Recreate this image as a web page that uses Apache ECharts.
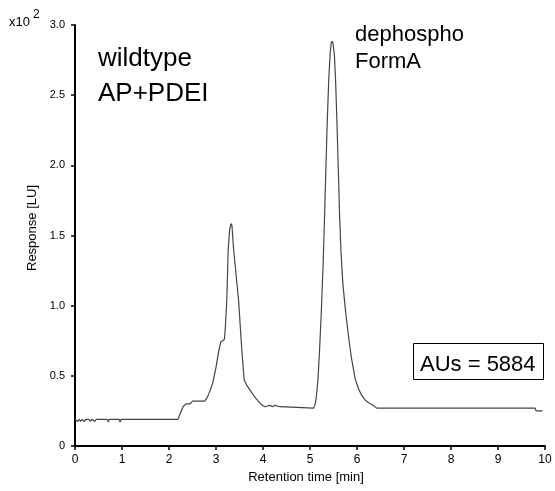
<!DOCTYPE html>
<html><head><meta charset="utf-8">
<script src="https://cdn.jsdelivr.net/npm/echarts@6/dist/echarts.min.js"></script>
<style>html,body{margin:0;padding:0;background:#fff}#c{width:555px;height:491px}</style>
</head><body><div id="c"></div>
<script>
const times = [0,0.04,0.06,0.09,0.12,0.15,0.2,0.23,0.3,0.33,0.36,0.42,0.45,0.69,0.71,0.73,0.94,0.96,0.98,2.19,2.25,2.3,2.36,2.45,2.5,2.76,2.82,2.88,2.93,3.0,3.06,3.1,3.18,3.2,3.23,3.26,3.29,3.32,3.34,3.37,3.43,3.48,3.55,3.6,3.66,3.72,3.8,3.87,3.95,4.04,4.08,4.15,4.2,4.25,4.36,4.4,5.08,5.11,5.13,5.15,5.17,5.2,5.24,5.28,5.31,5.34,5.37,5.4,5.43,5.45,5.47,5.49,5.52,5.545,5.57,5.6,5.63,5.66,5.7,5.76,5.82,5.88,5.96,6.03,6.1,6.17,6.24,6.34,6.42,9.79,9.81,9.95];
const responses = [0.19,0.19,0.175,0.19,0.175,0.19,0.175,0.19,0.19,0.175,0.19,0.175,0.19,0.19,0.17,0.19,0.19,0.17,0.19,0.19,0.24,0.28,0.3,0.3,0.32,0.32,0.35,0.4,0.45,0.56,0.68,0.74,0.76,0.85,1.04,1.40,1.54,1.585,1.57,1.42,1.21,1.04,0.68,0.47,0.43,0.40,0.36,0.33,0.30,0.28,0.29,0.29,0.28,0.29,0.28,0.27,0.27,0.30,0.34,0.40,0.48,0.66,0.95,1.30,1.64,2.0,2.34,2.62,2.80,2.87,2.885,2.87,2.78,2.6,2.34,2.0,1.64,1.38,1.15,0.95,0.78,0.63,0.48,0.41,0.36,0.33,0.31,0.29,0.27,0.27,0.25,0.25];
const xTicks = [0,1,2,3,4,5,6,7,8,9,10];
const yTicks = [0,0.5,1.0,1.5,2.0,2.5,3.0];
const xTitle = 'Retention time [min]';
const yTitle = 'Response [LU]';
const labelsLeft = ['wildtype','AP+PDEI'];
const labelsRight = ['dephospho','FormA'];
const areaText = 'AUs = 5884';

const chart = echarts.init(document.getElementById('c'));
const font = 'Liberation Sans, Arial, sans-serif';
chart.setOption({
  animation:false,
  grid:{left:75,right:10,top:25,bottom:45},
  xAxis:{type:'value',min:xTicks[0],max:xTicks[xTicks.length-1],interval:1,
    axisLine:{lineStyle:{color:'#000',width:2}},
    axisTick:{length:4,lineStyle:{color:'#000',width:1.5}},
    axisLabel:{fontFamily:font,fontSize:12,color:'#000',margin:8},
    splitLine:{show:false}},
  yAxis:{type:'value',min:yTicks[0],max:yTicks[yTicks.length-1],interval:0.5,
    axisLine:{show:true,lineStyle:{color:'#000',width:2}},
    axisTick:{show:true,length:4,lineStyle:{color:'#000',width:1.5}},
    axisLabel:{fontFamily:font,fontSize:11,color:'#000',margin:10,formatter:v=>v===0?'0':v.toFixed(1)},
    splitLine:{show:false}},
  graphic:[
    {type:'text',x:9,y:15.6,style:{text:'x10',font:'13px '+font,fill:'#000'}},
    {type:'text',x:33,y:8.4,style:{text:'2',font:'12px '+font,fill:'#000'}},
    {type:'text',x:306,y:477,style:{text:xTitle,font:'13px '+font,fill:'#000',align:'center',verticalAlign:'middle'}},
    {type:'text',x:32,y:228,rotation:Math.PI/2,style:{text:yTitle,font:'13px '+font,fill:'#000',align:'center',verticalAlign:'middle'}},
    {type:'text',x:98,y:46.2,style:{text:labelsLeft[0],font:'26px '+font,fill:'#000'}},
    {type:'text',x:98,y:80.9,style:{text:labelsLeft[1],font:'26px '+font,fill:'#000'}},
    {type:'text',x:355,y:24.4,style:{text:labelsRight[0],font:'22px '+font,fill:'#000'}},
    {type:'text',x:355,y:50.7,style:{text:labelsRight[1],font:'22px '+font,fill:'#000'}},
    {type:'rect',shape:{x:413.5,y:343.5,width:130,height:36},style:{fill:'#fff',stroke:'#000',lineWidth:1}},
    {type:'text',x:420,y:354.4,style:{text:areaText,font:'22px '+font,fill:'#000'}}
  ],
  series:[{type:'line',showSymbol:false,data:times.map((t,i)=>[t,responses[i]]),
    lineStyle:{color:'#444',width:1.2}}]
});
</script></body></html>
